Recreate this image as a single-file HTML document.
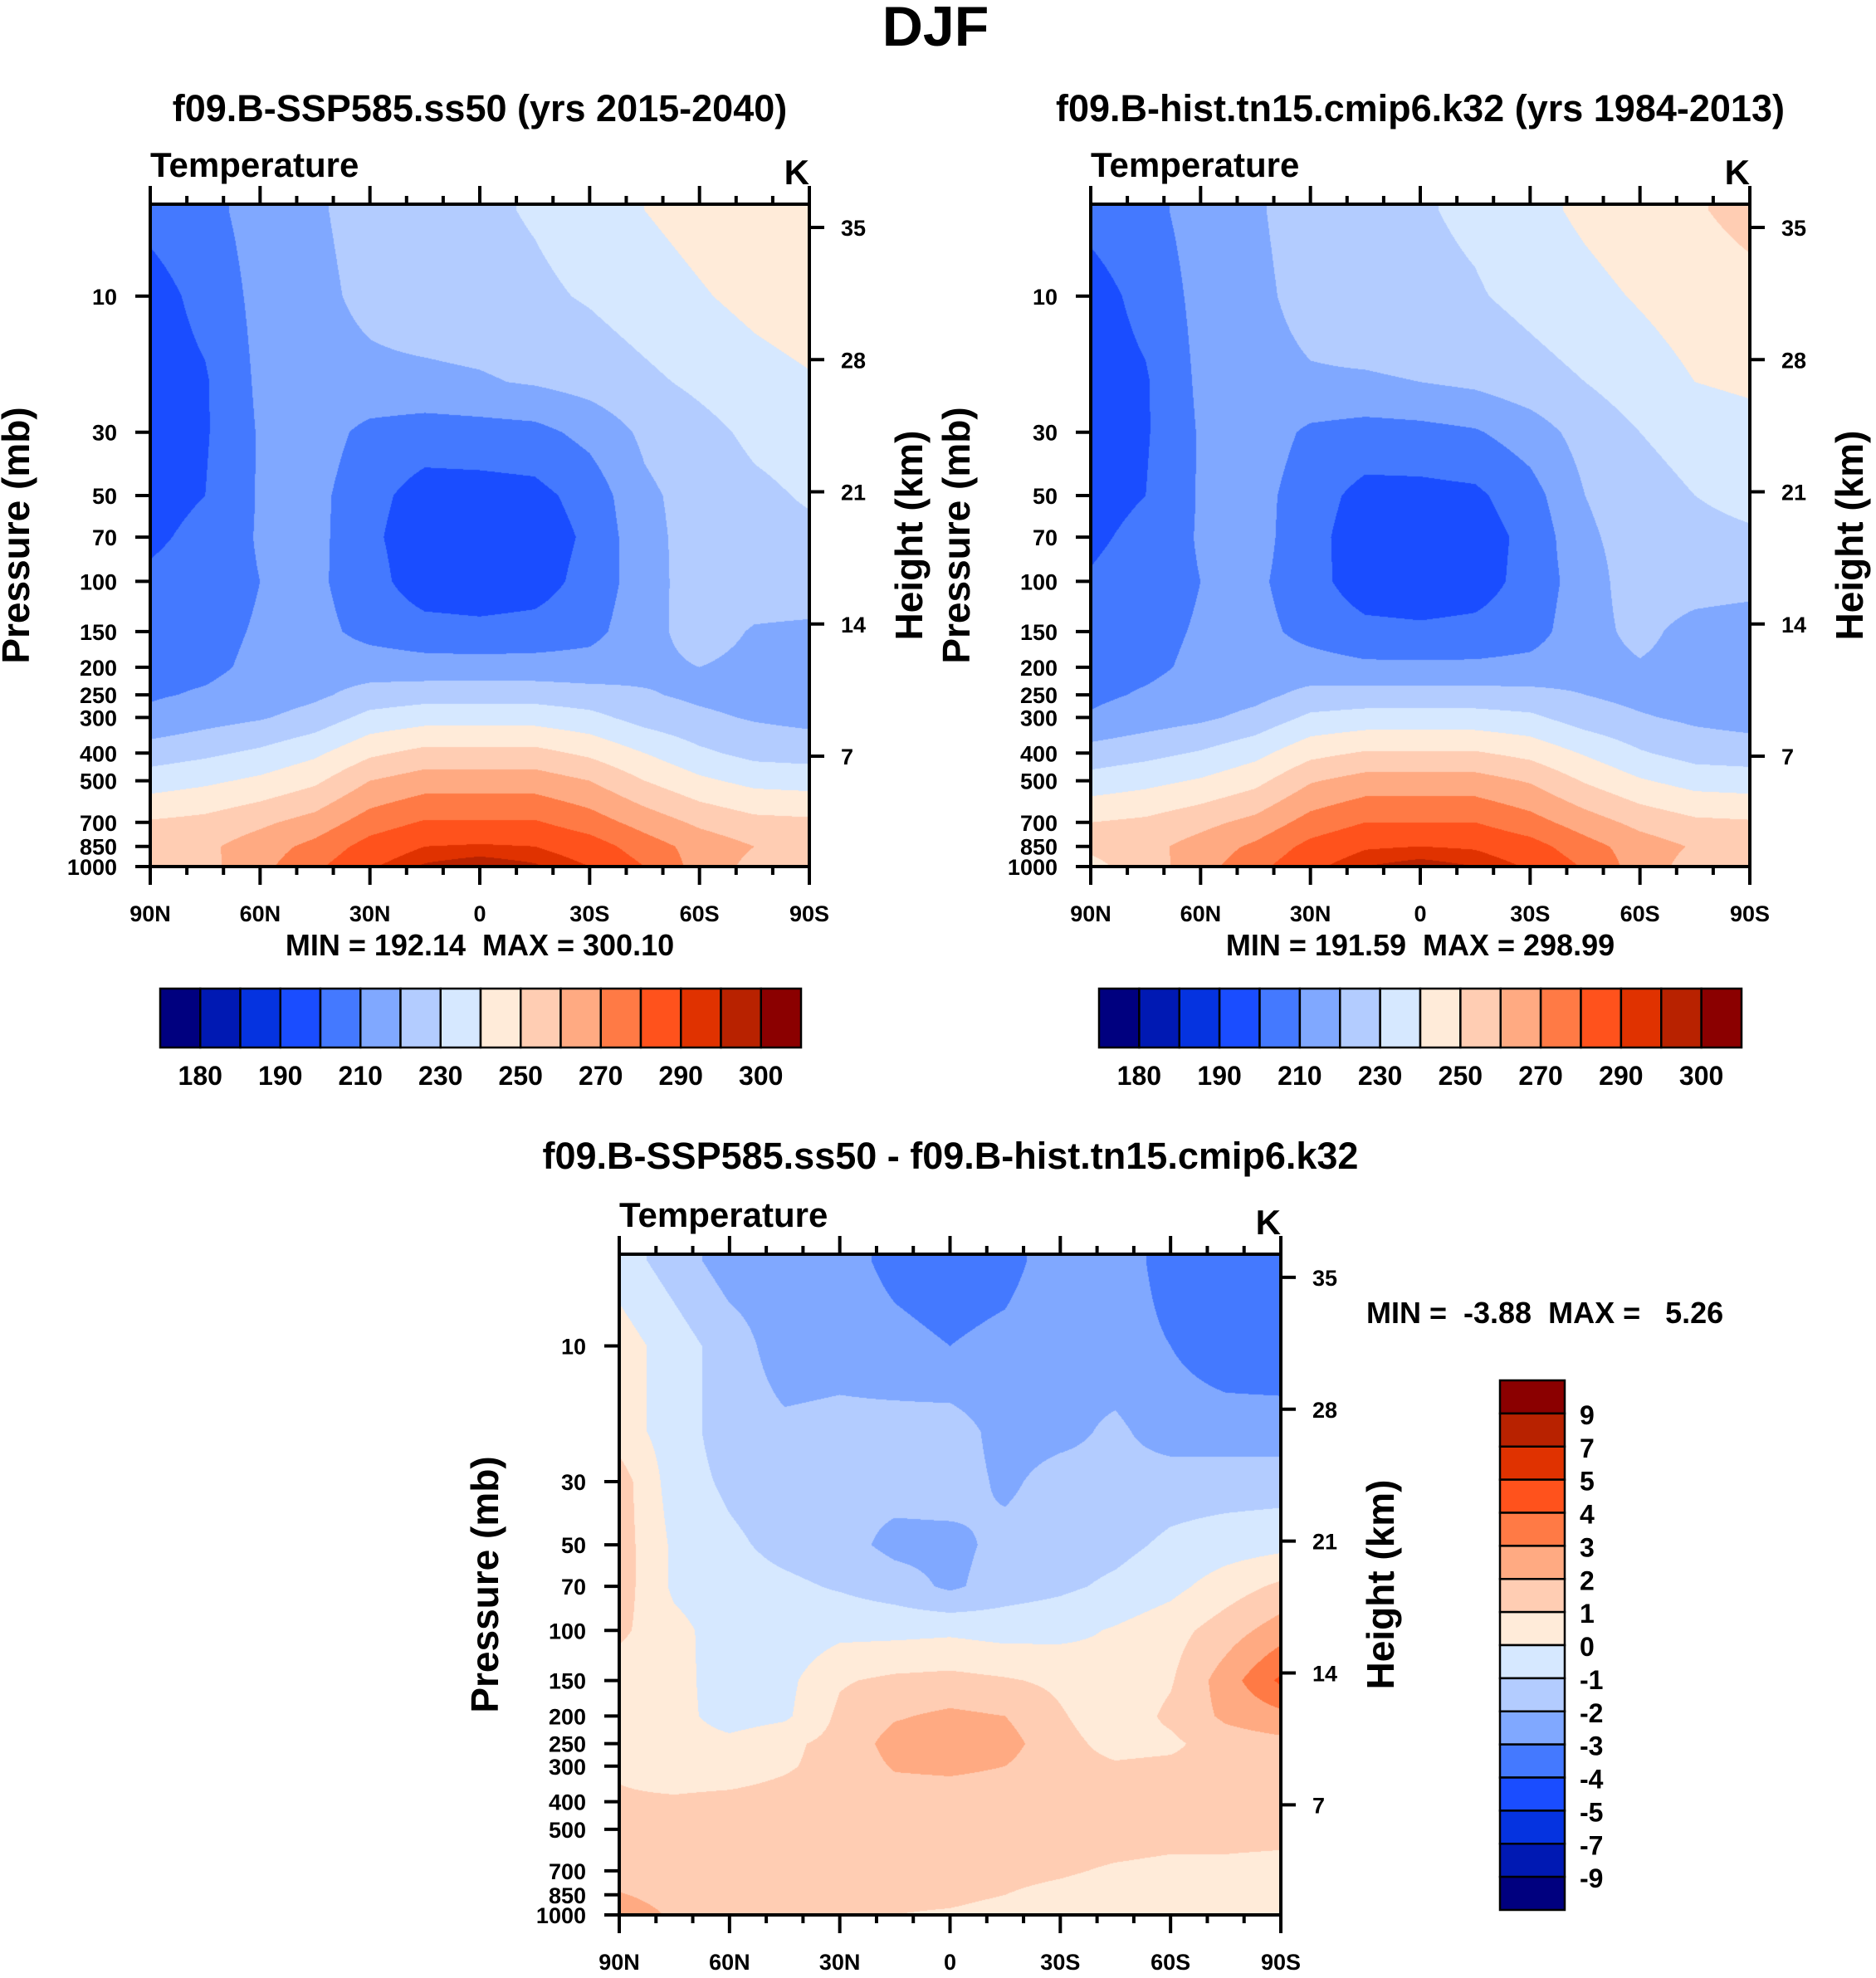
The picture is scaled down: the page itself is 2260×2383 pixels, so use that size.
<!DOCTYPE html>
<html><head><meta charset="utf-8">
<style>
html,body{margin:0;padding:0;background:#fff;}
#wrap{position:relative;width:2260px;height:2383px;overflow:hidden;}
canvas{position:absolute;}
svg{position:absolute;left:0;top:0;}
text{font-family:"Liberation Sans",sans-serif;font-weight:bold;fill:#000;}
</style></head>
<body>
<div id="wrap">
<canvas id="c1"></canvas>
<canvas id="c2"></canvas>
<canvas id="c3"></canvas>
<svg id="ov" width="2260" height="2383" xmlns="http://www.w3.org/2000/svg">
<text x="1127" y="55" font-size="68" text-anchor="middle">DJF</text>
<text x="578" y="146" font-size="45" text-anchor="middle">f09.B-SSP585.ss50 (yrs 2015-2040)</text>
<text x="1711" y="146" font-size="45" text-anchor="middle">f09.B-hist.tn15.cmip6.k32 (yrs 1984-2013)</text>
<text x="1145" y="1408" font-size="45" text-anchor="middle">f09.B-SSP585.ss50 - f09.B-hist.tn15.cmip6.k32</text>
<text x="578" y="1151" font-size="36" text-anchor="middle" xml:space="preserve">MIN = 192.14  MAX = 300.10</text>
<text x="1711" y="1151" font-size="36" text-anchor="middle" xml:space="preserve">MIN = 191.59  MAX = 298.99</text>
<text x="1646" y="1594" font-size="36" xml:space="preserve">MIN =  -3.88  MAX =   5.26</text>
</svg>
</div>
<script>
// ---------- data ----------
const lats = ["90N","75N","60N","45N","30N","15N","0","15S","30S","45S","60S","75S","90S"];
const pressureLevels = [5,10,20,30,50,70,100,150,200,250,300,400,500,700,850,1000];
const xTickLabels = ["90N","60N","30N","0","30S","60S","90S"];
const pTickValues = [10,30,50,70,100,150,200,250,300,400,500,700,850,1000];
const hTickValues = [35,28,21,14,7];
const absLevels = [180,185,190,200,210,220,230,240,250,260,270,280,290,295,300];
const absLabels = [180,190,210,230,250,270,290,300];
const diffLevels = [-9,-7,-5,-4,-3,-2,-1,0,1,2,3,4,5,7,9];
const palette = ["#00007f","#0019b3","#0533e0","#1a4dff","#4479ff","#80a8ff","#b3ccff","#d6e8ff",
                 "#ffebd9","#ffcdb3","#ffaa82","#ff7a45","#ff521c","#e03200","#b82200","#8b0000"];

const tempSSP = [
[203,207,214,219,223,226,228,231,235,240,244,248,250],
[196,203,213,218,222,225,226,228,231,235,239,243,246],
[195,199,212,217,218,218,219,221,224,228,232,236,239],
[195,199,211,215,207,205,206,207,213,222,227,232,234],
[196,200,211,213,203,196,196,197,204,218,224,228,231],
[198,203,211,213,202,194,193,194,202,217,224,227,228],
[202,205,210,212,204,194,193,195,204,215,226,226,226],
[206,207,211,213,207,204,203,204,207,216,225,219,218],
[207,208,212,215,215,214,214,214,214,217,220,217,216],
[209,211,214,218,224,226,226,226,224,221,218,216,215],
[212,216,219,224,233,236,236,236,233,226,222,219,217],
[225,228,232,238,248,253,253,253,248,240,232,227,226],
[235,238,242,248,260,265,265,265,260,250,242,237,236],
[251,253,258,264,275,281,281,281,275,266,258,253,252],
[254,258,265,273,284,290,291,290,285,275,266,260,258],
[250,257,267,278,289,296,299,296,290,280,266,257,255]];

const tempHist = [
[203,207,214,219,224,227,229,232,237,242,246,249,253],
[196,203,213,218,223,226,227,229,233,237,241,245,247],
[195,199,212,217,219,219,220,222,226,230,235,240,242],
[195,199,211,216,208,206,207,209,215,224,230,234,236],
[196,200,211,214,204,197,197,198,206,220,226,230,232],
[198,203,211,214,203,195,194,195,203,218,225,228,229],
[201,205,210,212,204,194,193,195,204,215,226,225,224],
[205,207,211,213,207,203,202,203,206,216,223,216,214],
[207,208,212,214,214,212,212,212,213,216,219,216,214],
[208,211,214,217,223,224,224,224,223,220,217,215,214],
[211,215,218,223,232,234,234,234,232,225,221,218,216],
[224,227,231,237,247,251,251,251,247,239,231,226,225],
[234,237,241,247,259,264,264,264,259,249,241,236,235],
[250,252,257,263,274,280,280,280,274,265,257,252,251],
[252,257,264,272,283,289,290,289,284,274,265,259,257],
[247,255,266,277,288,295,298,295,289,279,265,256,254]];

const tempDiff = [
[-0.5,-1.5,-2.5,-2.5,-2.6,-3.3,-3.6,-3.4,-2.4,-2.5,-3.4,-3.5,-3.6],
[0.5,-0.5,-1.5,-2.5,-2.4,-2.7,-3.0,-2.7,-2.2,-2.6,-3.0,-3.6,-3.7],
[0.5,-0.5,-1.5,-1.8,-1.7,-1.6,-1.5,-2.4,-2.3,-1.8,-2.5,-2.5,-2.5],
[1.5,-0.5,-1.2,-1.6,-1.8,-1.6,-1.5,-2.2,-1.6,-1.7,-1.5,-1.5,-1.5],
[1.5,-0.2,-0.8,-1.3,-1.6,-2.3,-2.3,-1.7,-1.5,-1.3,-0.8,-0.5,-0.3],
[1.5,-0.2,-0.6,-0.8,-1.1,-1.5,-2.2,-1.5,-1.2,-0.8,-0.3,0.5,1.2],
[1.2,0.3,-0.5,-0.7,-0.3,-0.3,-0.2,-0.4,-0.3,0.1,0.6,1.5,2.5],
[0.5,0.4,-0.6,-0.3,0.9,1.2,1.3,1.1,0.8,0.3,0.9,2.5,4.2],
[0.5,0.4,-0.5,-0.2,1.2,1.9,2.2,2.0,1.1,0.4,1.2,2.2,2.7],
[0.5,0.5,0.3,0.8,1.3,2.4,2.4,2.4,1.3,0.7,0.8,1.5,1.7],
[0.9,0.6,0.6,0.9,1.3,2.1,2.2,2.0,1.3,1.1,1.2,1.3,1.4],
[1.1,1.1,1.2,1.3,1.4,1.5,1.5,1.5,1.4,1.4,1.4,1.4,1.4],
[1.2,1.2,1.3,1.4,1.4,1.4,1.4,1.4,1.4,1.4,1.3,1.3,1.3],
[1.3,1.3,1.3,1.3,1.3,1.3,1.3,1.2,1.1,0.9,0.8,0.8,0.7],
[2.1,1.5,1.3,1.3,1.2,1.2,1.2,1.0,0.8,0.6,0.7,0.7,0.7],
[2.8,1.8,1.3,1.2,1.1,1.0,0.9,0.7,0.6,0.5,0.6,0.7,0.7]];

// ---------- helpers ----------
const NS = "http://www.w3.org/2000/svg";
const svg = document.getElementById("ov");
const PTOP = 4.76, PBOT = 1000;
function mk(tag, attrs, txt){
  const e = document.createElementNS(NS, tag);
  for (const k in attrs) e.setAttribute(k, attrs[k]);
  if (txt !== undefined) e.textContent = txt;
  svg.appendChild(e);
  return e;
}
function hexRgb(h){return [parseInt(h.substr(1,2),16),parseInt(h.substr(3,2),16),parseInt(h.substr(5,2),16)];}
const palRgb = palette.map(hexRgb);
const logLev = pressureLevels.map(p=>Math.log10(p));

function drawField(id, P, data, levels){
  const cv = document.getElementById(id);
  cv.width = P.w; cv.height = P.h;
  cv.style.left = P.x + "px"; cv.style.top = P.y + "px";
  const ctx = cv.getContext("2d");
  const img = ctx.createImageData(P.w, P.h);
  const lt = Math.log10(PTOP), lb = Math.log10(PBOT);
  const ncol = lats.length - 1;
  for (let py = 0; py < P.h; py++){
    const lp = lt + (py + 0.5) / P.h * (lb - lt);
    let r = 0;
    while (r < logLev.length - 2 && lp > logLev[r+1]) r++;
    let fy = (lp - logLev[r]) / (logLev[r+1] - logLev[r]);
    fy = Math.max(0, Math.min(1, fy));
    for (let px = 0; px < P.w; px++){
      const fx = (px + 0.5) / P.w * ncol;
      let c = Math.min(ncol - 1, Math.floor(fx));
      const tx = fx - c;
      const v = (data[r][c]*(1-tx) + data[r][c+1]*tx)*(1-fy) + (data[r+1][c]*(1-tx) + data[r+1][c+1]*tx)*fy;
      let k = 0;
      while (k < levels.length && v >= levels[k]) k++;
      const col = palRgb[k];
      const i = (py * P.w + px) * 4;
      img.data[i] = col[0]; img.data[i+1] = col[1]; img.data[i+2] = col[2]; img.data[i+3] = 255;
    }
  }
  ctx.putImageData(img, 0, 0);
}

function yOfP(P, p){
  const lt = Math.log10(PTOP), lb = Math.log10(PBOT);
  return P.y + (Math.log10(p) - lt) / (lb - lt) * P.h;
}
function yOfH(P, km){ return P.y + P.h * (28 + (35 - km) * 22.75) / 798; }
function xOfLat(P, deg){ return P.x + (90 - deg) / 180 * P.w; }

function drawAxes(P, pre){
  const fr = mk("rect", {x:P.x, y:P.y, width:P.w, height:P.h, fill:"none", stroke:"#000", "stroke-width":4});
  
  
  const t1 = mk("text", {x:P.x, y:P.y-33, "font-size":42}, "Temperature");
  
  
  const t2 = mk("text", {x:P.x+P.w, y:P.y-24, "font-size":42, "text-anchor":"end"}, "K");
  
  
  for (let d = 90; d >= -90; d -= 10){
    const x = xOfLat(P, d);
    const major = (d % 30 === 0);
    const len = major ? 22 : 10;
    const a = mk("line", {x1:x, x2:x, y1:P.y, y2:P.y-len, stroke:"#000", "stroke-width":4});
    
    
    const b = mk("line", {x1:x, x2:x, y1:P.y+P.h, y2:P.y+P.h+len, stroke:"#000", "stroke-width":4});
    
    
  }
  xTickLabels.forEach((lab, i) => {
    const x = xOfLat(P, 90 - i * 30);
    const t = mk("text", {x:x, y:P.y+P.h+66, "font-size":27, "text-anchor":"middle"}, lab);
    
    
  });
  pTickValues.forEach(p => {
    const y = yOfP(P, p);
    const l = mk("line", {x1:P.x, x2:P.x-18, y1:y, y2:y, stroke:"#000", "stroke-width":4});
    
    
    const t = mk("text", {x:P.x-40, y:y+10, "font-size":27, "text-anchor":"end"}, String(p));
    
    
  });
  hTickValues.forEach(h => {
    const y = yOfH(P, h);
    const l = mk("line", {x1:P.x+P.w, x2:P.x+P.w+18, y1:y, y2:y, stroke:"#000", "stroke-width":4});
    
    
    const t = mk("text", {x:P.x+P.w+38, y:y+10, "font-size":27}, String(h));
    
    
  });
  const cy = P.y + P.h * 0.5;
  const pl = mk("text", {x:0, y:0, "font-size":46, "text-anchor":"middle", transform:`translate(${P.x-146},${cy}) rotate(-90)`}, "Pressure (mb)");
  
  
  const hl = mk("text", {x:0, y:0, "font-size":46, "text-anchor":"middle", transform:`translate(${P.x+P.w+136},${cy}) rotate(-90)`}, "Height (km)");
  
  
}

function hColorbar(x0, y0, w, h, pre){
  const bw = w / palette.length;
  palette.forEach((c, i) => {
    const r = mk("rect", {x:x0+i*bw, y:y0, width:bw, height:h, fill:c, stroke:"#000", "stroke-width":2.5});
    
    
  });
  absLevels.forEach((v, i) => {
    if (absLabels.indexOf(v) < 0) return;
    const t = mk("text", {x:x0+(i+1)*bw, y:y0+h+45, "font-size":32, "text-anchor":"middle"}, String(v));
    
    
  });
}
function vColorbar(x0, y0, w, h, pre){
  const bh = h / palette.length;
  palette.forEach((c, i) => {
    const r = mk("rect", {x:x0, y:y0+i*bh, width:w, height:bh, fill:palette[palette.length-1-i], stroke:"#000", "stroke-width":2.5});
    
    
  });
  diffLevels.forEach((v, i) => {
    const y = y0 + (palette.length - 1 - i) * bh;
    const t = mk("text", {x:x0+w+18, y:y+13, "font-size":32}, String(v));
    
    
  });
}

const P1 = {x:181, y:246, w:794, h:798};
const P2 = {x:1314, y:246, w:794, h:798};
const P3 = {x:746, y:1511, w:797, h:796};
drawField("c1", P1, tempSSP, absLevels);
drawField("c2", P2, tempHist, absLevels);
drawField("c3", P3, tempDiff, diffLevels);
drawAxes(P1, "panel1");
drawAxes(P2, "panel2");
drawAxes(P3, "panel3");
hColorbar(193, 1191, 772, 71, "panel1");
hColorbar(1324, 1191, 774, 71, "panel2");
vColorbar(1807, 1663, 78, 638, "panel3");
</script>
</body></html>
